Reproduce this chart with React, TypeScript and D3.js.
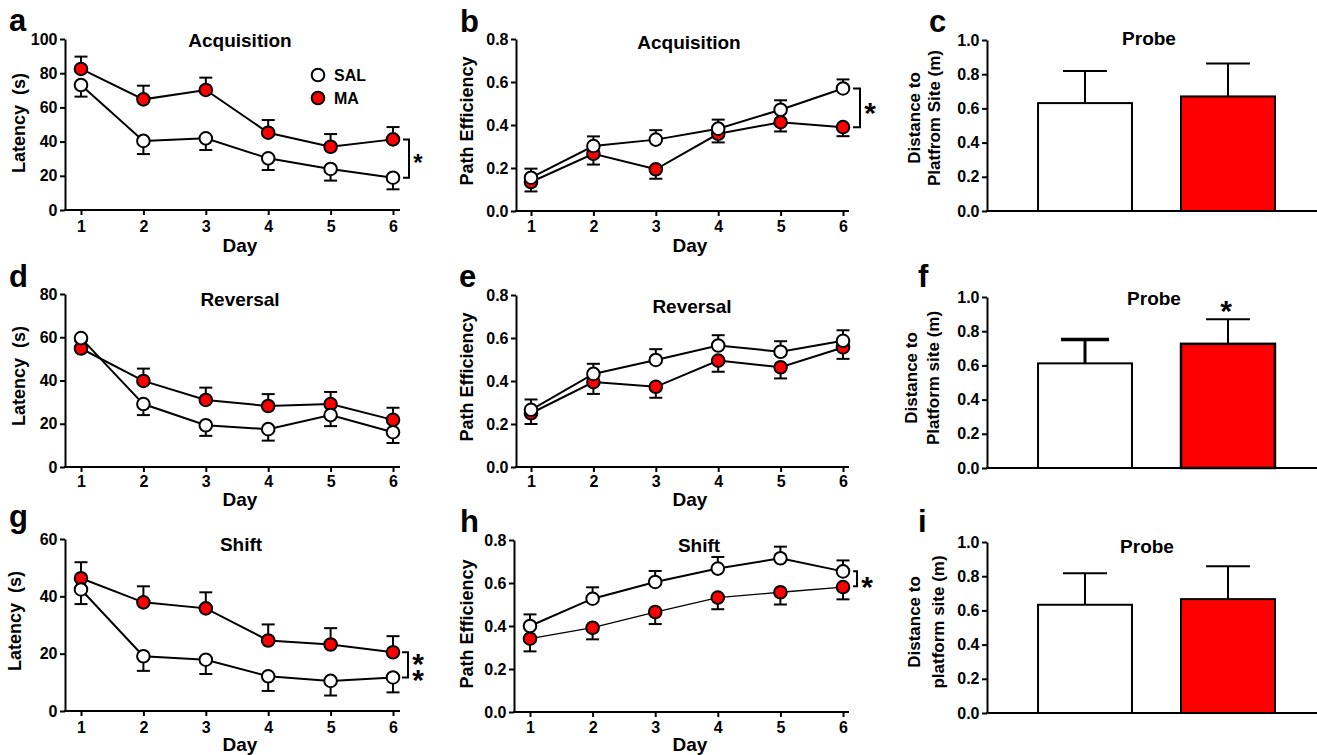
import React, { useEffect, useRef } from "react";
import * as d3 from "d3";

const days = [1, 2, 3, 4, 5, 6];
const groups = ["SAL", "MA"];

// a - acquisition latency (s)
const acqLatSAL = [73.1, 40.4, 41.9, 30.2, 24, 18.9];
const acqLatSALErr = [6.8, 7.7, 6.8, 6.8, 6.8, 6.8];
const acqLatMA = [82.5, 64.7, 70.2, 45.2, 37, 41.3];
const acqLatMAErr = [7.2, 8, 7.2, 7.4, 7.4, 7.2];

// b - acquisition path efficiency
const acqEffSAL = [0.155, 0.302, 0.332, 0.383, 0.471, 0.57];
const acqEffSALErr = [0.042, 0.045, 0.044, 0.042, 0.044, 0.042];
const acqEffMA = [0.135, 0.266, 0.194, 0.359, 0.413, 0.39];
const acqEffMAErr = [0.044, 0.05, 0.044, 0.04, 0.043, 0.042];

// d - reversal latency
const revLatSAL = [59.6, 29.1, 19.3, 17.5, 24, 16.1];
const revLatSALErr = [1.5, 5.1, 4.9, 5.3, 5.1, 5];
const revLatMA = [54.8, 39.8, 31, 28.2, 29.1, 21.8];
const revLatMAErr = [1, 5.7, 5.7, 5.5, 5.6, 5.6];

// e - reversal path efficiency
const revEffSAL = [0.266, 0.433, 0.498, 0.565, 0.536, 0.587];
const revEffSALErr = [0.048, 0.047, 0.05, 0.048, 0.049, 0.049];
const revEffMA = [0.25, 0.395, 0.373, 0.495, 0.464, 0.556];
const revEffMAErr = [0.05, 0.055, 0.051, 0.052, 0.052, 0.053];

// g - shift latency
const shiftLatSAL = [42.4, 19.1, 17.9, 12.1, 10.5, 11.7];
const shiftLatSALErr = [5.1, 5.1, 5, 5.1, 5.1, 5.2];
const shiftLatMA = [46.3, 37.9, 35.8, 24.6, 23.2, 20.5];
const shiftLatMAErr = [5.6, 5.6, 5.6, 5.6, 5.7, 5.6];

// h - shift path efficiency
const shiftEffSAL = [0.4, 0.527, 0.605, 0.667, 0.715, 0.654];
const shiftEffSALErr = [0.054, 0.053, 0.051, 0.054, 0.054, 0.051];
const shiftEffMA = [0.341, 0.392, 0.465, 0.532, 0.557, 0.581];
const shiftEffMAErr = [0.059, 0.054, 0.056, 0.054, 0.057, 0.057];

// c, f, i - probe distance (m), SAL then MA
const probeAcq = [0.631, 0.67];
const probeAcqErr = [0.187, 0.193];
const probeRev = [0.612, 0.726];
const probeRevErr = [0.139, 0.144];
const probeShift = [0.633, 0.666];
const probeShiftErr = [0.184, 0.192];

const latTicks100 = [0, 20, 40, 60, 80, 100];
const latTicks80 = [0, 20, 40, 60, 80];
const latTicks60 = [0, 20, 40, 60];
const effTicks = [0, 0.2, 0.4, 0.6, 0.8];
const probeTicks = [0, 0.2, 0.4, 0.6, 0.8, 1.0];

const FONT = "'Liberation Sans', Arial, Helvetica, sans-serif";
const RED = "#ff0000";

const leftCol = { axisX: 65, day1: 81, day6: 393, end: 400, yLabelX: 25, dayX: 240 };
const midCol = { axisX: 516, day1: 531, day6: 843, end: 849, yLabelX: 473, dayX: 690 };

const linePanels = [
  {
    ...leftCol, letter: "a", letterX: 9, letterY: 31, title: "Acquisition", titleX: 240, titleY: 47,
    yLabel: "Latency  (s)", yLabelY: 123, top: 39, bottom: 210, yMax: 100, yTicks: latTicks100, fmt: d3.format("d"),
    sal: acqLatSAL, salErr: acqLatSALErr, ma: acqLatMA, maErr: acqLatMAErr, salUp: false,
    tickY: 232, dayY: 252, legend: true,
    bracket: { x: 409, v1: 41.3, v2: 18.9, w: 6 }, stars: { x: 418, y: 171, size: 24, n: 1 },
  },
  {
    ...midCol, letter: "b", letterX: 460, letterY: 32, title: "Acquisition", titleX: 689, titleY: 49,
    yLabel: "Path Efficiency", yLabelY: 121, top: 39, bottom: 211, yMax: 0.8, yTicks: effTicks, fmt: d3.format(".1f"),
    sal: acqEffSAL, salErr: acqEffSALErr, ma: acqEffMA, maErr: acqEffMAErr, salUp: true,
    tickY: 232, dayY: 252,
    bracket: { x: 860, v1: 0.57, v2: 0.39, w: 7 }, stars: { x: 870, y: 123, size: 30, n: 1 },
  },
  {
    ...leftCol, letter: "d", letterX: 9, letterY: 287, title: "Reversal", titleX: 240, titleY: 306,
    yLabel: "Latency  (s)", yLabelY: 376, top: 294, bottom: 467, yMax: 80, yTicks: latTicks80, fmt: d3.format("d"),
    sal: revLatSAL, salErr: revLatSALErr, ma: revLatMA, maErr: revLatMAErr, salUp: false,
    tickY: 487, dayY: 506,
  },
  {
    ...midCol, letter: "e", letterX: 459, letterY: 287, title: "Reversal", titleX: 692, titleY: 313,
    yLabel: "Path Efficiency", yLabelY: 377, top: 295, bottom: 467, yMax: 0.8, yTicks: effTicks, fmt: d3.format(".1f"),
    sal: revEffSAL, salErr: revEffSALErr, ma: revEffMA, maErr: revEffMAErr, salUp: true,
    tickY: 487, dayY: 506,
  },
  {
    ...leftCol, yLabelX: 21, letter: "g", letterX: 9, letterY: 527, title: "Shift", titleX: 241, titleY: 551,
    yLabel: "Latency  (s)", yLabelY: 621, top: 539, bottom: 711, yMax: 60, yTicks: latTicks60, fmt: d3.format("d"),
    sal: shiftLatSAL, salErr: shiftLatSALErr, ma: shiftLatMA, maErr: shiftLatMAErr, salUp: false,
    tickY: 733, dayY: 751,
    bracket: { x: 408, v1: 20.5, v2: 11.7, w: 6 },
    stars: { x: 418, y: 674, size: 30, n: 2, gap: 16 },
  },
  {
    ...midCol, axisX: 514, day1: 530, letter: "h", letterX: 460, letterY: 532, title: "Shift", titleX: 699, titleY: 552,
    yLabel: "Path Efficiency", yLabelY: 624, top: 540, bottom: 712, yMax: 0.8, yTicks: effTicks, fmt: d3.format(".1f"),
    sal: shiftEffSAL, salErr: shiftEffSALErr, ma: shiftEffMA, maErr: shiftEffMAErr, salUp: true, maThin: true,
    tickY: 733, dayY: 751,
    bracket: { x: 857, v1: 0.655, v2: 0.585, w: 4 }, stars: { x: 867, y: 597, size: 30, n: 1 },
  },
];

const barPanels = [
  {
    letter: "c", letterX: 929, letterY: 32, titleX: 1149, titleY: 45, top: 40, bottom: 211,
    yLines: ["Distance to", "Platfrom Site (m)"], yLineX: [920, 940], yLabelY: 118,
    vals: probeAcq, errs: probeAcqErr,
  },
  {
    letter: "f", letterX: 918, letterY: 287, titleX: 1154, titleY: 305, top: 297, bottom: 468,
    yLines: ["Distance to", "Platform site (m)"], yLineX: [917, 939], yLabelY: 378,
    vals: probeRev, errs: probeRevErr, thickCap: true, star: { x: 1226, y: 321 },
  },
  {
    letter: "i", letterX: 918, letterY: 532, titleX: 1147, titleY: 553, top: 542, bottom: 713,
    yLines: ["Distance to", "platform site (m)"], yLineX: [920, 944], yLabelY: 622,
    vals: probeShift, errs: probeShiftErr,
  },
];

const styleAxis = (ax) => {
  ax.selectAll("path, line").attr("stroke", "#000").attr("stroke-width", 2);
  ax.selectAll("text").attr("font-family", FONT).attr("font-weight", "bold").attr("font-size", 16).attr("fill", "#000");
};

const drawText = (g, x, y, txt, size, anchor = "start", rotate = false) => {
  const t = g
    .append("text")
    .attr("font-family", FONT)
    .attr("font-weight", "bold")
    .attr("font-size", size)
    .attr("fill", "#000")
    .attr("text-anchor", anchor)
    .text(txt);
  if (rotate) t.attr("transform", `translate(${x},${y}) rotate(-90)`);
  else t.attr("x", x).attr("y", y);
  return t;
};

const drawLinePanel = (svg, p) => {
  const g = svg.append("g");
  const x = d3.scaleLinear().domain([1, 6]).range([p.day1, p.day6]);
  const y = d3.scaleLinear().domain([0, p.yMax]).range([p.bottom, p.top]);

  const ya = g
    .append("g")
    .attr("transform", `translate(${p.axisX},0)`)
    .call(d3.axisLeft(y).tickValues(p.yTicks).tickFormat(p.fmt).tickSize(5).tickSizeOuter(0).tickPadding(2.5));
  styleAxis(ya);

  const xa = g
    .append("g")
    .attr("transform", `translate(0,${p.bottom})`)
    .call(d3.axisBottom(x).tickValues(days).tickFormat(d3.format("d")).tickSize(5).tickSizeOuter(0).tickPadding(5));
  xa.select(".domain").remove();
  styleAxis(xa);
  xa.selectAll("text").attr("dy", null).attr("y", p.tickY - p.bottom);
  g.append("line")
    .attr("x1", p.axisX - 1).attr("x2", p.end)
    .attr("y1", p.bottom).attr("y2", p.bottom)
    .attr("stroke", "#000").attr("stroke-width", 2);

  const series = [
    { vals: p.ma, errs: p.maErr, up: !p.salUp, fill: RED, lw: p.maThin ? 1.3 : 2 },
    { vals: p.sal, errs: p.salErr, up: p.salUp, fill: "#fff", lw: 2 },
  ];
  const line = d3.line().x((d) => x(d[0])).y((d) => y(d[1]));

  series.forEach((s) => {
    const pts = days.map((d, i) => [d, s.vals[i]]);
    const eb = g.append("g").attr("stroke", "#000").attr("stroke-width", 2);
    pts.forEach((pt, i) => {
      const ev = s.up ? pt[1] + s.errs[i] : pt[1] - s.errs[i];
      eb.append("line").attr("x1", x(pt[0])).attr("x2", x(pt[0])).attr("y1", y(pt[1])).attr("y2", y(ev));
      eb.append("line").attr("x1", x(pt[0]) - 6.5).attr("x2", x(pt[0]) + 6.5).attr("y1", y(ev)).attr("y2", y(ev));
    });
    g.append("path").datum(pts).attr("d", line).attr("fill", "none").attr("stroke", "#000").attr("stroke-width", s.lw);
  });
  series.forEach((s) => {
    g.append("g")
      .selectAll("circle")
      .data(days.map((d, i) => [d, s.vals[i]]))
      .enter()
      .append("circle")
      .attr("cx", (d) => x(d[0]))
      .attr("cy", (d) => y(d[1]))
      .attr("r", 6.3)
      .attr("fill", s.fill)
      .attr("stroke", "#000")
      .attr("stroke-width", 2);
  });

  drawText(g, p.letterX, p.letterY, p.letter, 31);
  drawText(g, p.titleX, p.titleY, p.title, 19, "middle");
  drawText(g, p.yLabelX, p.yLabelY, p.yLabel, 18, "middle", true).attr("xml:space", "preserve").style("white-space", "pre");
  drawText(g, p.dayX, p.dayY, "Day", 19, "middle");

  if (p.legend) {
    const lg = g.append("g");
    groups.forEach((name, i) => {
      const cy = 75 + i * 23;
      lg.append("circle").attr("cx", 318).attr("cy", cy).attr("r", 6.3)
        .attr("fill", name === "MA" ? RED : "#fff").attr("stroke", "#000").attr("stroke-width", 2);
      drawText(lg, 334, cy + 6, name, 16);
    });
  }

  if (p.bracket) {
    const b = p.bracket;
    g.append("path")
      .attr("d", `M${b.x - b.w},${y(b.v1)}H${b.x}V${y(b.v2)}H${b.x - b.w}`)
      .attr("fill", "none").attr("stroke", "#000").attr("stroke-width", 2);
  }
  if (p.stars) {
    const s = p.stars;
    const t = drawText(g, s.x, s.y, "", s.size, "middle");
    d3.range(s.n).forEach((k) => {
      t.append("tspan").attr("x", s.x).attr("dy", k === 0 ? 0 : s.gap).text("*");
    });
  }
};

const drawBarPanel = (svg, p) => {
  const g = svg.append("g");
  const x = d3.scaleBand().domain(groups).range([990, 1323]).paddingInner(0.343).paddingOuter(0.336);
  const y = d3.scaleLinear().domain([0, 1]).range([p.bottom, p.top]);

  groups.forEach((name, i) => {
    const v = p.vals[i];
    const cx = x(name) + x.bandwidth() / 2;
    const et = y(v + p.errs[i]);
    const thick = p.thickCap && name === "SAL";
    g.append("line").attr("x1", cx).attr("x2", cx).attr("y1", y(v)).attr("y2", et)
      .attr("stroke", "#000").attr("stroke-width", thick ? 3 : 2);
    g.append("line").attr("x1", cx - (thick ? 24 : 22)).attr("x2", cx + (thick ? 24 : 22)).attr("y1", et).attr("y2", et)
      .attr("stroke", "#000").attr("stroke-width", thick ? 3.5 : 2);
    g.append("rect")
      .attr("x", x(name)).attr("y", y(v))
      .attr("width", x.bandwidth()).attr("height", p.bottom - y(v))
      .attr("fill", name === "MA" ? RED : "#fff")
      .attr("stroke", "#000").attr("stroke-width", name === "MA" && p.thickCap ? 2.5 : 2);
  });

  const ya = g
    .append("g")
    .attr("transform", `translate(987,0)`)
    .call(d3.axisLeft(y).tickValues(probeTicks).tickFormat(d3.format(".1f")).tickSize(5).tickSizeOuter(0).tickPadding(2.5));
  styleAxis(ya);
  g.append("line").attr("x1", 986).attr("x2", 1317).attr("y1", p.bottom).attr("y2", p.bottom)
    .attr("stroke", "#000").attr("stroke-width", 2);

  drawText(g, p.letterX, p.letterY, p.letter, 31);
  drawText(g, p.titleX, p.titleY, "Probe", 19, "middle");
  p.yLines.forEach((ln, i) => drawText(g, p.yLineX[i], p.yLabelY, ln, 17, "middle", true));
  if (p.star) drawText(g, p.star.x, p.star.y, "*", 30, "middle");
};

const App = () => {
  const svgRef = useRef(null);

  useEffect(() => {
    const svg = d3.select(svgRef.current);
    svg.selectAll("*").remove();
    svg.append("rect").attr("width", 1317).attr("height", 755).attr("fill", "#fff");
    linePanels.forEach((p) => drawLinePanel(svg, p));
    barPanels.forEach((p) => drawBarPanel(svg, p));
  }, []);

  return (
    <svg
      ref={svgRef}
      width={1317}
      height={755}
      style={{ position: "absolute", left: 0, top: 0, display: "block" }}
    ></svg>
  );
};

export default App;
